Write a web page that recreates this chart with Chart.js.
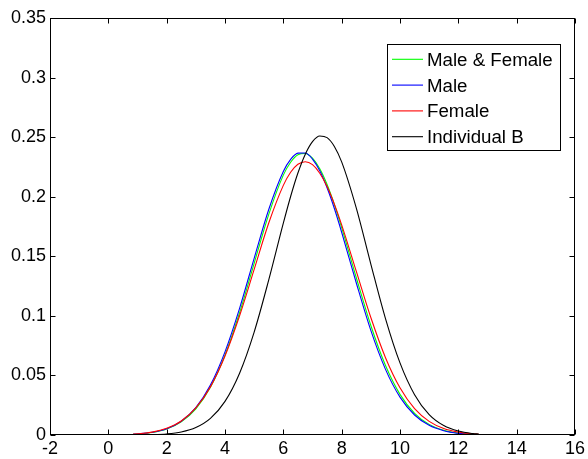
<!DOCTYPE html>
<html>
<head>
<meta charset="utf-8">
<script src="https://cdn.jsdelivr.net/npm/chart.js@4.4.1/dist/chart.umd.min.js"></script>
<style>
  html, body { margin: 0; padding: 0; background: #fff; }
  #wrap { width: 588px; height: 459px; position: relative; }
</style>
</head>
<body>
<div id="wrap"><canvas id="c" width="588" height="459"></canvas></div>
<script>
// ---- data ----
const xValues = [0.85, 1, 1.5, 2, 2.5, 3, 3.5, 4, 4.5, 5, 5.5, 6, 6.25, 6.5, 6.75, 7, 7.25, 7.5, 7.75, 8, 8.5, 9, 9.5, 10, 10.5, 11, 11.5, 12, 12.5, 12.7];

const maleFemale = [0.0006, 0.0008, 0.0021, 0.0050, 0.0110, 0.0219, 0.0400, 0.0670, 0.1026, 0.1441, 0.1852, 0.2181, 0.2289, 0.2352, 0.2363, 0.2323, 0.2234, 0.2102, 0.1934, 0.1741, 0.1322, 0.0919, 0.0585, 0.0341, 0.0182, 0.0089, 0.0040, 0.0016, 0.0006, 0.0004];
const male       = [0.0006, 0.0009, 0.0023, 0.0053, 0.0116, 0.0230, 0.0419, 0.0698, 0.1063, 0.1483, 0.1893, 0.2212, 0.2313, 0.2366, 0.2367, 0.2316, 0.2217, 0.2075, 0.1901, 0.1702, 0.1278, 0.0878, 0.0553, 0.0318, 0.0168, 0.0081, 0.0036, 0.0014, 0.0005, 0.0004];
const female     = [0.0007, 0.0010, 0.0024, 0.0056, 0.0117, 0.0227, 0.0404, 0.0663, 0.1001, 0.1390, 0.1779, 0.2095, 0.2205, 0.2272, 0.2294, 0.2269, 0.2197, 0.2085, 0.1938, 0.1764, 0.1375, 0.0986, 0.0651, 0.0396, 0.0221, 0.0114, 0.0054, 0.0024, 0.0010, 0.0006];
const individualB= [0.0001, 0.0001, 0.0003, 0.0009, 0.0025, 0.0062, 0.0139, 0.0282, 0.0519, 0.0864, 0.1302, 0.1778, 0.2002, 0.2199, 0.2355, 0.2462, 0.2510, 0.2496, 0.2422, 0.2292, 0.1906, 0.1435, 0.0979, 0.0605, 0.0338, 0.0171, 0.0079, 0.0033, 0.0012, 0.0008];

const seriesLabels = ['Male & Female', 'Male', 'Female', 'Individual B'];
const seriesColors = ['#00ff00', '#0000ff', '#ff0000', '#000000'];

const xTickValues = [-2, 0, 2, 4, 6, 8, 10, 12, 14, 16];
const xTickLabels = ['-2', '0', '2', '4', '6', '8', '10', '12', '14', '16'];
const yTickValues = [0, 0.05, 0.1, 0.15, 0.2, 0.25, 0.3, 0.35];
const yTickLabels = ['0', '0.05', '0.1', '0.15', '0.2', '0.25', '0.3', '0.35'];

// ---- chart ----
const allSeries = [maleFemale, male, female, individualB];
const datasets = allSeries.map((vals, i) => ({
  label: seriesLabels[i],
  data: xValues.map((x, j) => ({ x: x, y: vals[j] })),
  borderColor: seriesColors[i],
  backgroundColor: seriesColors[i],
  borderWidth: 1.1,
  pointRadius: 0,
  fill: false,
  cubicInterpolationMode: 'monotone',
  order: 4 - i
}));

const FONT = '"Liberation Sans", Arial, Helvetica, sans-serif';

const framePlugin = {
  id: 'frame',
  afterDatasetsDraw(chart) {
    const { ctx, chartArea: a, scales } = chart;
    ctx.save();
    ctx.strokeStyle = '#000';
    ctx.lineWidth = 1;
    const L = Math.round(a.left) + 0.5, R = Math.round(a.right) - 0.5;
    const T = Math.round(a.top) + 0.5, B = Math.round(a.bottom) - 0.5;
    ctx.strokeRect(L, T, R - L, B - T);
    const tl = 5;
    ctx.beginPath();
    xTickValues.forEach(v => {
      const px = Math.round(scales.x.getPixelForValue(v)) + 0.5;
      ctx.moveTo(px, B); ctx.lineTo(px, B - tl);
      ctx.moveTo(px, T); ctx.lineTo(px, T + tl);
    });
    yTickValues.forEach(v => {
      const py = Math.round(scales.y.getPixelForValue(v)) + 0.5;
      ctx.moveTo(L, py); ctx.lineTo(L + tl, py);
      ctx.moveTo(R, py); ctx.lineTo(R - tl, py);
    });
    ctx.stroke();
    ctx.restore();
  },
  afterDraw(chart) {
    const ctx = chart.ctx;
    ctx.save();
    // legend box
    const bx = 387.5, by = 44.5, bw = 173, bh = 106;
    ctx.fillStyle = '#fff';
    ctx.fillRect(bx, by, bw, bh);
    ctx.strokeStyle = '#000';
    ctx.lineWidth = 1;
    ctx.strokeRect(bx, by, bw, bh);
    ctx.font = '18.7px ' + FONT;
    ctx.textBaseline = 'alphabetic';
    ctx.textAlign = 'left';
    chart.data.datasets.forEach((ds, i) => {
      const y = 59.3 + i * 25.8;
      ctx.strokeStyle = ds.borderColor;
      ctx.lineWidth = 1.1;
      ctx.beginPath();
      ctx.moveTo(392, y); ctx.lineTo(423, y);
      ctx.stroke();
      ctx.fillStyle = '#000';
      ctx.fillText(ds.label, 427, y + 6.5);
    });
    ctx.restore();
  }
};

new Chart(document.getElementById('c'), {
  type: 'line',
  data: { datasets },
  options: {
    responsive: false,
    animation: false,
    layout: { padding: { top: 18, right: 13, left: 0, bottom: 0 } },
    plugins: { legend: { display: false }, tooltip: { enabled: false } },
    scales: {
      x: {
        type: 'linear',
        min: -2, max: 16,
        afterFit: s => { s.height = 24; },
        afterBuildTicks: s => { s.ticks = xTickValues.map(v => ({ value: v })); },
        ticks: {
          color: '#000',
          font: { size: 18, family: FONT },
          padding: 3,
          maxRotation: 0,
          autoSkip: false,
          callback: (v, i) => xTickLabels[i]
        },
        grid: { display: false, drawTicks: false },
        border: { display: false }
      },
      y: {
        type: 'linear',
        min: 0, max: 0.35,
        afterFit: s => { s.width = 50; },
        afterBuildTicks: s => { s.ticks = yTickValues.map(v => ({ value: v })); },
        ticks: {
          color: '#000',
          font: { size: 18, family: FONT },
          padding: 4,
          autoSkip: false,
          callback: (v, i) => yTickLabels[i]
        },
        grid: { display: false, drawTicks: false },
        border: { display: false }
      }
    }
  },
  plugins: [framePlugin]
});
</script>
</body>
</html>
